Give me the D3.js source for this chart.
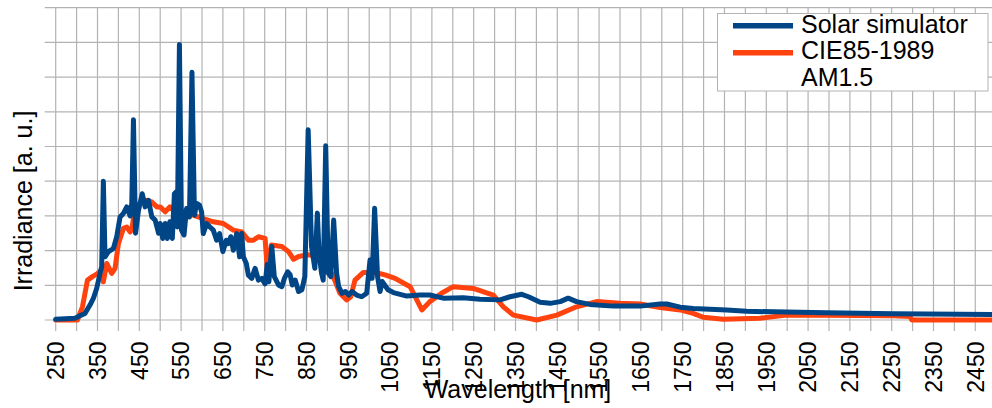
<!DOCTYPE html>
<html>
<head>
<meta charset="utf-8">
<script src="https://cdn.jsdelivr.net/npm/d3@7"></script>
<style>
  html, body { margin: 0; padding: 0; background: #fff; }
  svg { display: block; font-family: "Liberation Sans", Arial, sans-serif; }
</style>
</head>
<body>
<svg id="chart" width="992" height="408"></svg>
<script>
// ---- data ----
const simWavelength = [250,296,308,320,332,340,348,356,360,364,368,376,388,396,404,412,420,428,432,436,441,448,457,464,472,480,488,496,500,506,512,517,523,529,534,538,541,546,551,557,563,570,576,582,587,594,599,603,611,619,627,635,642,650,658,663,669,675,683,690,695,699,706,711,719,727,735,743,751,756,760,767,773,783,791,797,805,811,816,823,831,839,846,854,862,870,876,880,886,890,896,902,908,915,922,927,935,943,951,959,970,982,994,1002,1007,1013,1020,1026,1031,1045,1058,1090,1121,1145,1177,1225,1265,1313,1337,1365,1381,1409,1433,1457,1476,1496,1528,1584,1648,1696,1712,1744,1775,1855,1903,1998,2094,2254,2490];
const simIrradiance = [0.02,0.05,0.12,0.19,0.43,0.62,0.91,1.34,1.53,4.0,1.82,1.97,2.06,2.4,2.97,3.07,3.26,3.0,3.36,5.77,2.5,3.16,3.64,3.26,3.45,2.97,2.88,2.5,2.78,2.35,2.78,2.35,2.83,2.35,3.64,3.69,2.68,7.94,2.59,2.45,3.21,2.97,7.14,3.02,3.36,3.31,3.12,2.49,2.78,2.68,2.59,2.3,2.49,1.97,2.3,2.2,2.4,2.01,2.49,1.82,2.49,1.82,1.63,1.29,1.2,1.49,1.15,1.2,1.04,1.6,1.1,2.12,1.25,1.01,0.96,1.2,1.39,1.3,1.01,1.15,0.82,0.87,1.25,5.48,2.12,1.49,3.08,1.92,1.35,1.15,5.02,1.35,1.25,2.88,1.35,0.96,0.77,0.82,0.72,0.82,0.72,0.67,0.77,1.73,1.2,3.22,1.25,0.82,1.11,0.87,0.79,0.69,0.72,0.72,0.63,0.64,0.6,0.58,0.67,0.74,0.67,0.51,0.48,0.53,0.63,0.53,0.45,0.40,0.40,0.46,0.46,0.37,0.33,0.29,0.25,0.23,0.21,0.18,0.16];

const cieWavelength = [250,302,314,326,338,350,360,364,372,384,392,400,412,420,428,432,440,452,464,480,492,500,512,523,535,555,579,603,627,651,675,695,711,723,735,751,757,766,791,807,819,831,854,882,898,914,930,946,956,966,986,1014,1038,1062,1098,1106,1126,1145,1173,1201,1249,1297,1321,1345,1401,1449,1496,1544,1600,1648,1696,1744,1775,1799,1847,1935,1998,2094,2254,2294,2298,2490];
const cieIrradiance = [0,0,0.38,1.15,1.25,1.34,1.44,1.1,1.63,1.34,1.49,2.2,2.64,2.68,2.54,2.6,3.26,3.36,3.45,3.4,3.26,3.26,3.12,3.26,3.12,3.12,3.02,2.92,2.83,2.78,2.59,2.54,2.3,2.3,2.4,2.35,1.3,2.16,2.12,1.97,1.75,1.83,1.88,1.83,1.63,1.25,0.77,0.58,0.67,1.15,1.37,1.37,1.3,1.2,0.96,0.77,0.29,0.53,0.77,0.96,0.91,0.72,0.38,0.14,0,0.14,0.38,0.53,0.48,0.46,0.36,0.29,0.19,0.08,0.02,0.05,0.14,0.14,0.12,0.1,0,0];

const gridWavelengths = d3.range(250, 2451, 50);
const labelWavelengths = d3.range(250, 2451, 100);
const yTicks = d3.range(0, 10, 1);

const seriesNames = ["Solar simulator", "CIE85-1989", "AM1.5"];
const colors = { sim: "#004586", cie: "#ff420e" };

// ---- layout ----
const svg = d3.select("#chart");
const mLeft = 55.7, mRight = 992, mTop = 7.7, mBottom = 320;

const x = d3.scaleLinear().domain([250, 2490]).range([mLeft, mRight]);
const y = d3.scaleLinear().domain([0, 9]).range([mBottom, mTop]);

const gridColor = "#b3b3b3";

// vertical grid + ticks
svg.append("g").selectAll("line").data(gridWavelengths).join("line")
  .attr("x1", d => x(d)).attr("x2", d => x(d))
  .attr("y1", mTop).attr("y2", mBottom + 11)
  .attr("stroke", gridColor).attr("stroke-width", 1.2);

// horizontal grid + ticks
svg.append("g").selectAll("line").data(yTicks).join("line")
  .attr("x1", mLeft - 11).attr("x2", mRight)
  .attr("y1", d => y(d)).attr("y2", d => y(d))
  .attr("stroke", gridColor).attr("stroke-width", 1.2);

// x tick labels (rotated)
svg.append("g").selectAll("text").data(labelWavelengths).join("text")
  .attr("transform", d => `translate(${x(d) + 8.3},341.5) rotate(-90)`)
  .attr("text-anchor", "end")
  .attr("font-size", 23)
  .attr("fill", "#000")
  .text(d => d);

// axis titles
svg.append("text")
  .attr("x", 518).attr("y", 398)
  .attr("text-anchor", "middle")
  .attr("font-size", 25)
  .text("Wavelength [nm]");

svg.append("text")
  .attr("transform", "translate(31.5,201) rotate(-90)")
  .attr("text-anchor", "middle")
  .attr("font-size", 25)
  .text("Irradiance [a. u.]");

// lines
const line = d3.line().x(d => x(d[0])).y(d => y(d[1]));
const cieData = d3.zip(cieWavelength, cieIrradiance);
const simData = d3.zip(simWavelength, simIrradiance);

svg.append("path").datum(cieData)
  .attr("d", line).attr("fill", "none")
  .attr("stroke", colors.cie).attr("stroke-width", 5)
  .attr("stroke-linejoin", "round").attr("stroke-linecap", "round");

svg.append("path").datum(simData)
  .attr("d", line).attr("fill", "none")
  .attr("stroke", colors.sim).attr("stroke-width", 5)
  .attr("stroke-linejoin", "round").attr("stroke-linecap", "round");

// legend
const lg = svg.append("g");
lg.append("rect")
  .attr("x", 717.5).attr("y", 13.5).attr("width", 270.5).attr("height", 77.5)
  .attr("fill", "#fff").attr("stroke", gridColor).attr("stroke-width", 1);

lg.append("line").attr("x1", 733).attr("x2", 793).attr("y1", 25.7).attr("y2", 25.7)
  .attr("stroke", colors.sim).attr("stroke-width", 5.5);
lg.append("line").attr("x1", 733).attr("x2", 793).attr("y1", 52.7).attr("y2", 52.7)
  .attr("stroke", colors.cie).attr("stroke-width", 5.5);

lg.append("text").attr("x", 801).attr("y", 32.5).attr("font-size", 25).text(seriesNames[0]);
lg.append("text").attr("x", 801).attr("y", 59).attr("font-size", 25).text(seriesNames[1]);
lg.append("text").attr("x", 801).attr("y", 85.5).attr("font-size", 25).text(seriesNames[2]);
</script>
</body>
</html>
